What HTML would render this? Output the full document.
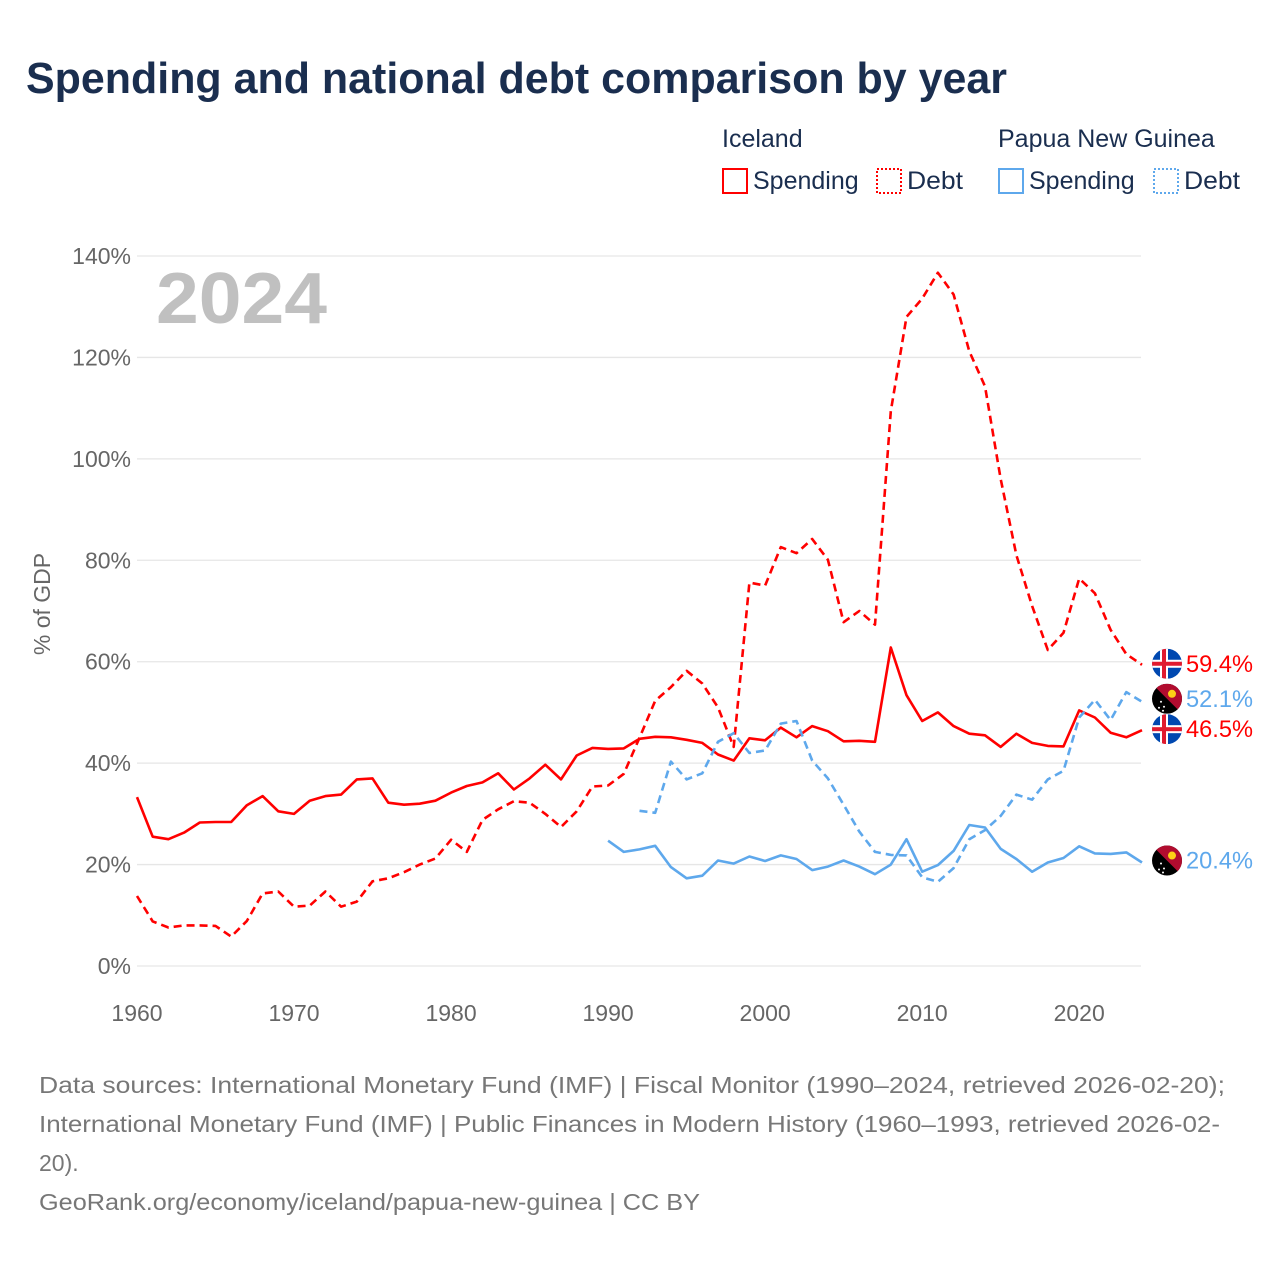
<!DOCTYPE html>
<html><head><meta charset="utf-8"><style>
body{margin:0;background:#fff;font-family:"Liberation Sans",sans-serif;}
svg{display:block}
</style></head><body>
<svg id="chart" width="1280" height="1280" viewBox="0 0 1280 1280">
<text x="26" y="93" font-size="44" font-weight="bold" fill="#1a2e4f" textLength="981" lengthAdjust="spacingAndGlyphs">Spending and national debt comparison by year</text>
<g font-size="25" fill="#1a2e4f">
<text x="722" y="147">Iceland</text>
<text x="998" y="147">Papua New Guinea</text>
<rect x="723" y="169" width="24" height="24" fill="none" stroke="#ff0000" stroke-width="2"/>
<text x="753" y="189">Spending</text>
<rect x="877" y="169" width="24" height="24" fill="none" stroke="#ff0000" stroke-width="2" stroke-dasharray="2,2"/>
<text x="907" y="189" textLength="56" lengthAdjust="spacingAndGlyphs">Debt</text>
<rect x="999" y="169" width="24" height="24" fill="none" stroke="#5ea8ec" stroke-width="2"/>
<text x="1029" y="189">Spending</text>
<rect x="1154" y="169" width="24" height="24" fill="none" stroke="#5ea8ec" stroke-width="2" stroke-dasharray="2,2"/>
<text x="1184" y="189" textLength="56" lengthAdjust="spacingAndGlyphs">Debt</text>
</g>
<g id="grid"></g>
<text x="156" y="323" font-size="72" font-weight="bold" fill="#c0c0c0" textLength="171" lengthAdjust="spacingAndGlyphs">2024</text>
<text transform="translate(50,604) rotate(-90)" text-anchor="middle" font-size="23" fill="#666">% of GDP</text>
<g id="series"></g>
<g id="endlabels"></g>
<g font-size="23" fill="#777">
<text x="39" y="1093" textLength="1186" lengthAdjust="spacingAndGlyphs">Data sources: International Monetary Fund (IMF) | Fiscal Monitor (1990–2024, retrieved 2026-02-20);</text>
<text x="39" y="1132" textLength="1181" lengthAdjust="spacingAndGlyphs">International Monetary Fund (IMF) | Public Finances in Modern History (1960–1993, retrieved 2026-02-</text>
<text x="39" y="1171">20).</text>
<text x="39" y="1210" textLength="661" lengthAdjust="spacingAndGlyphs">GeoRank.org/economy/iceland/papua-new-guinea | CC BY</text>
</g>
</svg>
<script>
const yTicks=[0,20,40,60,80,100,120,140];
const xTicks=[1960,1970,1980,1990,2000,2010,2020];
const iceYears0=1960;
const iceSpending=[33.3,25.5,25.0,26.3,28.3,28.4,28.4,31.7,33.5,30.5,30.0,32.6,33.5,33.8,36.8,37.0,32.2,31.8,32.0,32.6,34.2,35.5,36.2,38.0,34.8,37.0,39.7,36.8,41.5,43.0,42.8,42.9,44.8,45.2,45.1,44.6,44.0,41.7,40.5,44.9,44.5,47.0,45.1,47.3,46.3,44.3,44.4,44.2,62.8,53.4,48.3,50.0,47.3,45.8,45.5,43.2,45.8,44.0,43.4,43.3,50.4,49.0,46.0,45.1,46.5];
const iceDebt=[13.8,8.8,7.6,8.0,8.0,7.9,5.8,8.9,14.3,14.7,11.7,11.9,14.7,11.7,12.7,16.7,17.3,18.5,20.0,21.2,24.9,22.5,28.8,30.9,32.5,32.2,30.0,27.4,30.5,35.4,35.6,37.9,45.0,52.3,55.0,58.2,55.7,51.0,43.2,75.6,75.0,82.6,81.4,84.2,80.1,67.8,70.0,67.3,109.4,128.0,131.6,136.7,132.4,121.2,114.3,96.0,81.0,71.0,62.3,65.7,76.4,73.5,66.3,61.5,59.4];
const pngSpendStart=1990;
const pngSpending=[24.7,22.5,23.0,23.7,19.5,17.3,17.8,20.8,20.2,21.6,20.7,21.8,21.1,18.9,19.6,20.8,19.6,18.1,20.0,25.0,18.6,19.9,22.7,27.8,27.3,23.1,21.1,18.6,20.4,21.3,23.6,22.2,22.1,22.4,20.4];
const pngDebtStart=1992;
const pngDebt=[30.6,30.2,40.3,36.8,38.0,44.2,45.9,42.0,42.5,47.8,48.3,40.5,37.0,31.8,26.5,22.5,21.9,21.8,17.5,16.6,19.3,25.0,26.8,29.6,33.8,32.8,36.8,38.5,49.0,52.5,48.5,54.0,52.1];

const NS='http://www.w3.org/2000/svg';
const X=yr=>137+(yr-1960)*(1142-137)/64;
const Y=v=>966-v*(966-256)/140;
function mk(tag,attrs,parent){const e=document.createElementNS(NS,tag);for(const k in attrs)e.setAttribute(k,attrs[k]);parent.appendChild(e);return e;}
const grid=document.getElementById('grid');
yTicks.forEach(t=>{
  const l=mk('line',{x1:137,x2:1141,y1:Y(t),y2:Y(t),stroke:'#e6e6e6','stroke-width':1.3},grid);
  
  
  const tx=mk('text',{x:131,y:Y(t)+8,'text-anchor':'end','font-size':23,fill:'#666'},grid);
  tx.textContent=t+'%';
  
  
});
xTicks.forEach(t=>{
  const tx=mk('text',{x:X(t),y:1021,'text-anchor':'middle','font-size':23,fill:'#666'},grid);
  tx.textContent=t;
  
  
});
const sg=document.getElementById('series');
function line(vals,start,color,dash,name){
  const d=vals.map((v,i)=>(i?'L':'M')+X(start+i).toFixed(1)+','+Y(v).toFixed(1)).join('');
  const p=mk('path',{d:d,fill:'none',stroke:color,'stroke-width':2.6,'stroke-linejoin':'round'},sg);
  if(dash)p.setAttribute('stroke-dasharray','8,5');
  
  
}
line(iceSpending,iceYears0,'#ff0000',false,'iceland-spending-line');
line(iceDebt,iceYears0,'#ff0000',true,'iceland-debt-line');
line(pngSpending,pngSpendStart,'#5ea8ec',false,'png-spending-line');
line(pngDebt,pngDebtStart,'#5ea8ec',true,'png-debt-line');

const el=document.getElementById('endlabels');
function flag(cy,type,val,color,name){
  const g=mk('g',{},el);
  
  
  const cx=1167,r=15;
  const cid='c'+Math.round(cy);
  const cp=mk('clipPath',{id:cid},g);mk('circle',{cx:cx,cy:cy,r:r},cp);
  const f=mk('g',{'clip-path':'url(#'+cid+')'},g);
  if(type==='is'){
    mk('rect',{x:cx-r,y:cy-r,width:2*r,height:2*r,fill:'#0048b0'},f);
    mk('rect',{x:cx-r,y:cy-4,width:2*r,height:8,fill:'#fff'},f);
    mk('rect',{x:cx-7,y:cy-r,width:8,height:2*r,fill:'#fff'},f);
    mk('rect',{x:cx-r,y:cy-2,width:2*r,height:4,fill:'#e01b2f'},f);
    mk('rect',{x:cx-5,y:cy-r,width:4,height:2*r,fill:'#e01b2f'},f);
  }else{
    mk('rect',{x:cx-r,y:cy-r,width:2*r,height:2*r,fill:'#000'},f);
    mk('path',{d:`M${cx-r},${cy-r}L${cx+r},${cy-r}L${cx+r},${cy+r}Z`,fill:'#b10c2f'},f);
    mk('circle',{cx:cx+5,cy:cy-5,r:4,fill:'#fcd116'},f);
    [[-6,3],[-3,8],[-8,9],[-4,12]].forEach(p=>mk('circle',{cx:cx+p[0],cy:cy+p[1],r:1,fill:'#fff'},f));
  }
  const t=mk('text',{x:1186,y:cy+8,'font-size':24,fill:color,textLength:67,lengthAdjust:'spacingAndGlyphs'},g);
  t.textContent=val.toFixed(1)+'%';
}
flag(Y(iceDebt[iceDebt.length-1])-1,'is',iceDebt[iceDebt.length-1],'#ff0000','iceland-debt-end-label');
flag(Y(pngDebt[pngDebt.length-1])-3,'png',pngDebt[pngDebt.length-1],'#5ea8ec','png-debt-end-label');
flag(Y(iceSpending[iceSpending.length-1])-1,'is',iceSpending[iceSpending.length-1],'#ff0000','iceland-spending-end-label');
flag(Y(pngSpending[pngSpending.length-1])-2,'png',pngSpending[pngSpending.length-1],'#5ea8ec','png-spending-end-label');
</script>
</body></html>
